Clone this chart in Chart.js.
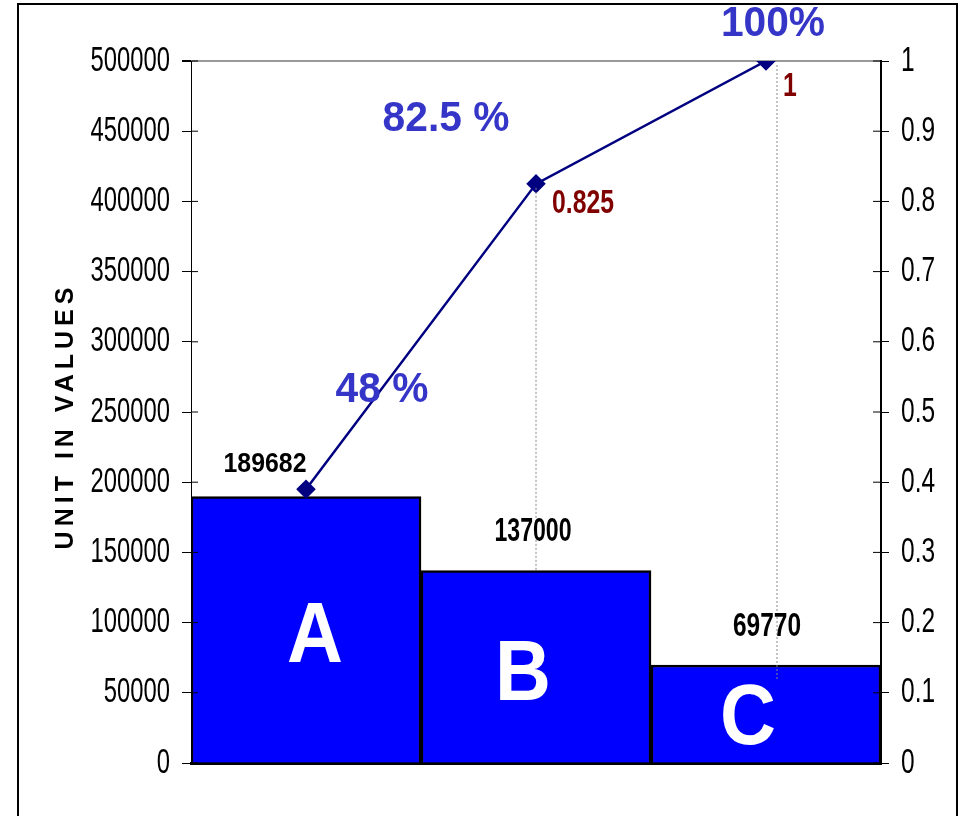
<!DOCTYPE html>
<html>
<head>
<meta charset="utf-8">
<script src="https://cdn.jsdelivr.net/npm/chart.js@4.4.1/dist/chart.umd.min.js"></script>
<style>
  body { margin: 0; background: #fff; }
  canvas { display: block; }
</style>
</head>
<body>
<canvas id="chart" width="961" height="816"></canvas>
<script>
const categories = ['A', 'B', 'C'];
const unitValues = [189682, 137000, 69770];
const cumulativeShare = [0.39, 0.825, 1];
const valueLabels = ['189682', '137000', '69770'];
const shareLabels = ['48 %', '82.5 %', '100%'];
const pointLabels = ['', '0.825', '1'];

const leftMax = 500000;
const leftStep = 50000;
const rightMax = 1;
const rightStep = 0.1;

const FONT = "'Liberation Sans', Arial, sans-serif";

// dibuja texto con escala horizontal (la imagen original esta estirada en vertical)
function txt(ctx, s, x, y, size, opts) {
    opts = opts || {};
    ctx.save();
    ctx.font = (opts.bold ? 'bold ' : '') + size + 'px ' + FONT;
    ctx.fillStyle = opts.color || '#000';
    ctx.textAlign = opts.align || 'center';
    ctx.textBaseline = 'middle';
    ctx.translate(x, y);
    ctx.scale(opts.sx || 1, 1);
    ctx.fillText(s, 0, 0);
    ctx.restore();
}

const decorations = {
    id: 'decorations',
    beforeDraw(chart) {
        const ctx = chart.ctx;
        ctx.save();
        ctx.fillStyle = '#fff';
        ctx.fillRect(0, 0, chart.width, chart.height);
        ctx.strokeStyle = '#000';
        ctx.lineWidth = 2;
        ctx.strokeRect(18, 4, 939, 830);
        ctx.restore();
    },
    afterDatasetsDraw(chart) {
        const ctx = chart.ctx;
        const bars = chart.getDatasetMeta(0).data;
        const pts = chart.getDatasetMeta(1).data;
        const yL = chart.scales.y;
        const yR = chart.scales.y1;

        // lineas punteadas de los puntos hasta las barras
        const dropOffsets = [0, 0, 11];
        const dropExtra = [0, 0, 16];
        ctx.save();
        ctx.strokeStyle = '#888';
        ctx.lineWidth = 1;
        ctx.setLineDash([2, 2]);
        for (let i = 1; i < pts.length; i++) {
            const x = pts[i].x + dropOffsets[i];
            ctx.beginPath();
            ctx.moveTo(x, pts[i].y + 4);
            ctx.lineTo(x, bars[i].y + dropExtra[i]);
            ctx.stroke();
        }
        ctx.restore();

        // marcas de los ejes hacia dentro
        ctx.save();
        ctx.strokeStyle = '#000';
        ctx.lineWidth = 1;
        yL.ticks.forEach(t => {
            const y = yL.getPixelForValue(t.value);
            ctx.beginPath();
            ctx.moveTo(yL.right, y);
            ctx.lineTo(yL.right + 7, y);
            ctx.stroke();
        });
        yR.ticks.forEach(t => {
            const y = yR.getPixelForValue(t.value);
            ctx.beginPath();
            ctx.moveTo(yR.left - 8, y);
            ctx.lineTo(yR.left, y);
            ctx.stroke();
        });
        ctx.restore();

        // etiquetas de los ejes
        yL.ticks.forEach(t => {
            txt(ctx, String(t.value), yL.right - 21, yL.getPixelForValue(t.value), 35, { align: 'right', sx: 0.68 });
        });
        yR.ticks.forEach(t => {
            const v = Math.round(t.value * 10) / 10;
            txt(ctx, String(v), yR.left + 20, yR.getPixelForValue(t.value), 35, { align: 'left', sx: 0.7 });
        });

        // titulo del eje izquierdo
        ctx.save();
        ctx.translate(66, (yL.top + yL.bottom) / 2 + 6);
        ctx.rotate(-Math.PI / 2);
        ctx.font = 'bold 25px ' + FONT;
        ctx.fillStyle = '#000';
        ctx.textAlign = 'center';
        ctx.textBaseline = 'middle';
        ctx.letterSpacing = '5px';
        ctx.fillText('UNIT IN VALUES', 2, 0);
        ctx.restore();

        // valores encima de las barras
        const valueOffsets = [[-41, -32], [-3, -39], [1, -38]];
        const valueScale = [0.92, 0.7, 0.72];
        const valueSize = [27, 33, 34];
        bars.forEach((b, i) => {
            txt(ctx, valueLabels[i], b.x + valueOffsets[i][0], b.y + valueOffsets[i][1], valueSize[i], { bold: true, sx: valueScale[i] });
        });

        // letras grandes dentro de las barras
        const letterOffsets = [[9, 9], [-13, 10], [-18, 7]];
        bars.forEach((b, i) => {
            txt(ctx, categories[i], b.x + letterOffsets[i][0], (b.y + b.base) / 2 + letterOffsets[i][1], 86, { bold: true, color: '#fff', sx: 0.9 });
        });

        // porcentajes acumulados
        const shareOffsets = [[76, -99], [-90, -64], [7, -37]];
        pts.forEach((p, i) => {
            txt(ctx, shareLabels[i], p.x + shareOffsets[i][0], p.y + shareOffsets[i][1], 42, { bold: true, color: '#3535C8', sx: 0.97 });
        });

        // etiquetas de los puntos
        const pointOffsets = [[0, 0], [47, 20], [24, 26]];
        pts.forEach((p, i) => {
            if (!pointLabels[i]) return;
            txt(ctx, pointLabels[i], p.x + pointOffsets[i][0], p.y + pointOffsets[i][1], 33, { bold: true, color: '#800000', sx: 0.75 });
        });
    }
};

new Chart(document.getElementById('chart'), {
    data: {
        labels: categories,
        datasets: [{
            type: 'bar',
            data: unitValues,
            yAxisID: 'y',
            backgroundColor: '#0000FF',
            borderColor: '#000',
            borderWidth: 2.5,
            categoryPercentage: 1,
            barPercentage: 1,
            order: 2
        }, {
            type: 'line',
            data: cumulativeShare,
            yAxisID: 'y1',
            borderColor: '#000080',
            borderWidth: 2.5,
            pointStyle: 'rectRot',
            pointRadius: 8,
            pointBackgroundColor: '#000080',
            pointBorderColor: '#000080',
            tension: 0,
            order: 1
        }]
    },
    options: {
        responsive: false,
        animation: false,
        layout: { padding: { top: 61, bottom: 53, left: 0, right: 0 } },
        plugins: { legend: { display: false }, tooltip: { enabled: false } },
        scales: {
            x: {
                ticks: { display: false },
                grid: { display: false },
                border: { display: true, color: '#000', width: 3 },
                afterFit: s => { s.height = 0; }
            },
            y: {
                position: 'left',
                min: 0,
                max: leftMax,
                ticks: { display: false, stepSize: leftStep },
                grid: {
                    drawOnChartArea: true,
                    color: c => c.tick && c.tick.value === leftMax ? '#999' : 'transparent',
                    lineWidth: c => c.tick && c.tick.value === leftMax ? 2 : 1,
                    tickColor: '#000',
                    tickLength: 9
                },
                border: { color: '#000', width: 1 },
                afterFit: s => { s.width = 191; }
            },
            y1: {
                position: 'right',
                min: 0,
                max: rightMax,
                ticks: { display: false, stepSize: rightStep },
                grid: { drawOnChartArea: false, tickColor: '#000', tickLength: 8 },
                border: { color: '#000', width: 2 },
                afterFit: s => { s.width = 80; }
            }
        }
    },
    plugins: [decorations]
});
</script>
</body>
</html>
